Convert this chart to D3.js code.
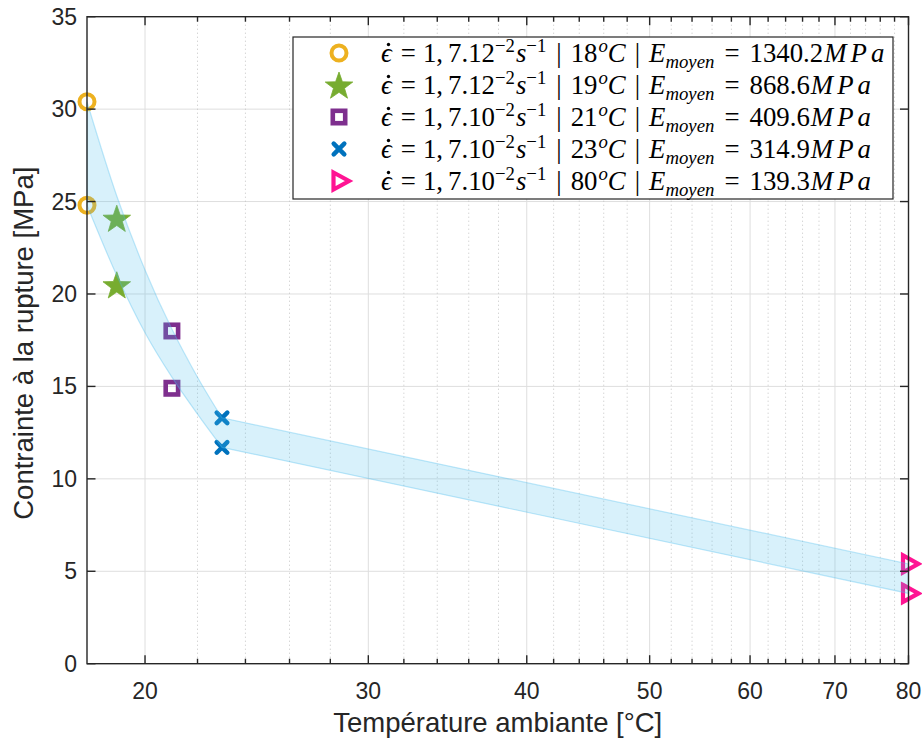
<!DOCTYPE html>
<html>
<head>
<meta charset="utf-8">
<script src="https://cdn.jsdelivr.net/npm/d3@7"></script>
<style>
  html, body { margin: 0; padding: 0; background: #fff; }
  svg { display: block; }
</style>
</head>
<body>
<svg id="chart" width="922" height="742"></svg>
<script>
// ---------------- data ----------------
const temperatures = [18, 19, 21, 23, 80];            // °C, one per series
const stressHigh   = [30.4, 24.1, 18.0, 13.3, 5.4];   // MPa, upper test of each series
const stressLow    = [24.8, 20.5, 14.9, 11.7, 3.8];   // MPa, lower test of each series
const rateMantissa = ["12", "12", "10", "10", "10"];
const tempLabels   = ["18", "19", "21", "23", "80"];
const modulus      = ["1340.2", "868.6", "409.6", "314.9", "139.3"];
const markerShapes = ["circle", "star", "square", "cross", "triangle"];
const markerColors = ["#EDB120", "#77AC30", "#7E2F8E", "#0072BD", "#FF1493"];

// shaded envelope
const bandT     = [18, 19, 20, 21, 22, 23, 80];
const bandUpper = [30.4, 25.3, 21.3, 18.1, 15.5, 13.3, 5.4];
const bandLower = [24.8, 21.0, 17.9, 15.5, 13.5, 11.7, 3.8];

const xMajorTicks = [20, 30, 40, 50, 60, 70, 80];
const xMinorTicks = [22, 24, 26, 28, 32, 34, 36, 38, 42, 44, 46, 48, 52, 54, 56, 58, 62, 64, 66, 68, 72, 74, 76, 78];
const yTicks      = [0, 5, 10, 15, 20, 25, 30, 35];

const xLabel = "Température ambiante [°C]";
const yLabel = "Contrainte à la rupture [MPa]";

// ---------------- layout ----------------
const L = 87, R = 908.5, T = 16.7, B = 663.7;
const axisColor = "#262626";
const sansFont = "Liberation Sans, Arial, Helvetica, sans-serif";
const serifFont = "Liberation Serif, 'Times New Roman', serif";

const svg = d3.select("#chart");
const x = d3.scaleLog().domain([18, 80]).range([L, R]);
const y = d3.scaleLinear().domain([0, 35]).range([B, T]);

// ---------------- grid ----------------
const grid = svg.append("g");
grid.selectAll("line.ymaj").data(yTicks.slice(1, -1)).join("line")
  .attr("x1", L).attr("x2", R).attr("y1", d => y(d)).attr("y2", d => y(d))
  .attr("stroke", "#dedede").attr("stroke-width", 1);
grid.selectAll("line.xmin").data(xMinorTicks).join("line")
  .attr("x1", d => x(d)).attr("x2", d => x(d)).attr("y1", T).attr("y2", B)
  .attr("stroke", "#c4c4c4").attr("stroke-width", 1).attr("stroke-dasharray", "1,3");
grid.selectAll("line.xmaj").data(xMajorTicks.slice(0, -1)).join("line")
  .attr("x1", d => x(d)).attr("x2", d => x(d)).attr("y1", T).attr("y2", B)
  .attr("stroke", "#dedede").attr("stroke-width", 1);

// ---------------- markers ----------------
function drawMarker(g, shape, color) {
  if (shape === "circle") {
    g.append("circle").attr("r", 7.5).attr("fill", "none").attr("stroke", color).attr("stroke-width", 4);
  } else if (shape === "star") {
    const pts = [];
    for (let k = 0; k < 10; k++) {
      const r = k % 2 === 0 ? 14.5 : 5.8;
      const a = -Math.PI / 2 + k * Math.PI / 5;
      pts.push([r * Math.cos(a), r * Math.sin(a) + 1.5]);
    }
    g.append("polygon").attr("points", pts.map(p => p.join(",")).join(" ")).attr("fill", color).attr("stroke", color).attr("stroke-width", 0.8);
  } else if (shape === "square") {
    g.append("rect").attr("x", -6.2).attr("y", -6.2).attr("width", 12.4).attr("height", 12.4)
      .attr("fill", "none").attr("stroke", color).attr("stroke-width", 4.6);
  } else if (shape === "cross") {
    g.append("path").attr("d", "M-5.3,-5.3L5.3,5.3M-5.3,5.3L5.3,-5.3").attr("stroke", color).attr("stroke-width", 4.5).attr("stroke-linecap", "round");
  } else if (shape === "triangle") {
    g.append("path").attr("d", "M-5.5,-8.5L10,0L-5.5,8.5Z").attr("fill", "none").attr("stroke", color).attr("stroke-width", 4.2).attr("stroke-linejoin", "miter");
  }
}

const marks = svg.append("g");
temperatures.forEach((t, i) => {
  [stressHigh[i], stressLow[i]].forEach(v => {
    const g = marks.append("g").attr("transform", `translate(${x(t)},${y(v)})`);
    drawMarker(g, markerShapes[i], markerColors[i]);
  });
});

// ---------------- shaded band (drawn over the markers) ----------------
const nCurve = bandT.length - 1; // last point joined by a straight segment
const curveLine = d3.line().x(d => x(d[0])).y(d => y(d[1])).curve(d3.curveMonotoneX);
const upPts = bandT.slice(0, nCurve).map((t, i) => [t, bandUpper[i]]);
const loPts = bandT.slice(0, nCurve).map((t, i) => [t, bandLower[i]]).reverse();
const last = bandT.length - 1;
let bandPath = curveLine(upPts);
bandPath += `L${x(bandT[last])},${y(bandUpper[last])}`;
bandPath += `L${x(bandT[last])},${y(bandLower[last])}`;
bandPath += curveLine(loPts).replace(/^M/, "L");
bandPath += "Z";
svg.append("path").attr("d", bandPath)
  .attr("fill", "rgb(77,190,238)").attr("fill-opacity", 0.22)
  .attr("stroke", "rgb(77,190,238)").attr("stroke-opacity", 0.35).attr("stroke-width", 1.2);

// ---------------- axes box & ticks ----------------
const ax = svg.append("g").attr("stroke", axisColor).attr("stroke-width", 1.4).attr("fill", "none");
ax.append("rect").attr("x", L).attr("y", T).attr("width", R - L).attr("height", B - T);
const majLen = 8.5, minLen = 5;
xMajorTicks.forEach(d => {
  ax.append("line").attr("x1", x(d)).attr("x2", x(d)).attr("y1", B).attr("y2", B - majLen);
  ax.append("line").attr("x1", x(d)).attr("x2", x(d)).attr("y1", T).attr("y2", T + majLen);
});
xMinorTicks.forEach(d => {
  ax.append("line").attr("x1", x(d)).attr("x2", x(d)).attr("y1", B).attr("y2", B - minLen);
  ax.append("line").attr("x1", x(d)).attr("x2", x(d)).attr("y1", T).attr("y2", T + minLen);
});
yTicks.forEach(d => {
  ax.append("line").attr("x1", L).attr("x2", L + majLen).attr("y1", y(d)).attr("y2", y(d));
  ax.append("line").attr("x1", R).attr("x2", R - majLen).attr("y1", y(d)).attr("y2", y(d));
});

// tick labels
const lbl = svg.append("g").attr("font-family", sansFont).attr("font-size", 23).attr("fill", axisColor);
xMajorTicks.forEach(d => {
  lbl.append("text").attr("x", x(d)).attr("y", 699).attr("text-anchor", "middle").text(d);
});
yTicks.forEach(d => {
  lbl.append("text").attr("x", L - 10).attr("y", y(d) + 8).attr("text-anchor", "end").text(d);
});

// axis titles
svg.append("text").attr("x", (L + R) / 2).attr("y", 732).attr("text-anchor", "middle")
  .attr("font-family", sansFont).attr("font-size", 27.5).attr("fill", axisColor).text(xLabel);
svg.append("text").attr("transform", `translate(33,${(T + B) / 2 + 3}) rotate(-90)`).attr("text-anchor", "middle")
  .attr("font-family", sansFont).attr("font-size", 27.5).attr("fill", axisColor).text(yLabel);

// ---------------- legend ----------------
const legX = 293, legY = 37, legW = 600, legH = 162, rowH = 32;
const leg = svg.append("g");
leg.append("rect").attr("x", legX).attr("y", legY).attr("width", legW).attr("height", legH)
  .attr("fill", "#fff").attr("stroke", axisColor).attr("stroke-width", 1.2);

const fs = 26.8;
const textX = 381;
temperatures.forEach((t, i) => {
  const cy = legY + 16 + i * rowH;
  const base = cy + 9;
  const g = leg.append("g").attr("transform", `translate(339,${cy})`);
  drawMarker(g, markerShapes[i], markerColors[i]);
  const txt = leg.append("text").attr("x", textX).attr("y", base)
    .attr("font-family", serifFont).attr("font-size", fs).attr("fill", "#000");
  const parts = [
    { s: "ϵ", it: true, dx: 0 },
    { s: "=", dx: 9 },
    { s: "1,", dx: 7 },
    { s: "7." + rateMantissa[i], dx: 5 },
    { s: "−2", sup: true, dx: 0 },
    { s: "s", it: true, dx: 1 },
    { s: "−1", sup: true, dx: 0 },
    { s: "|", dx: 10 },
    { s: tempLabels[i], dx: 9 },
    { s: "o", sup: true, it: true, dx: 1 },
    { s: "C", it: true, dx: 0 },
    { s: "|", dx: 9 },
    { s: "E", it: true, dx: 9 },
    { s: "moyen", sub: true, it: true, dx: 0 },
    { s: "=", dx: 10 },
    { s: modulus[i], dx: 10 },
    { s: "MPa", it: true, dx: 1, ls: 4 }
  ];
  let shift = 0;
  parts.forEach(p => {
    const target = p.sup ? -10.5 : (p.sub ? 5.5 : 0);
    const ts = txt.append("tspan").attr("dx", p.dx).attr("dy", target - shift).text(p.s);
    shift = target;
    if (p.it) ts.attr("font-style", "italic");
    if (p.sup || p.sub) ts.attr("font-size", fs * 0.7);
    if (p.ls) ts.attr("letter-spacing", p.ls);
  });
  // dot accent over the epsilon
  leg.append("circle").attr("cx", textX + 7.5).attr("cy", base - 17.5).attr("r", 1.7).attr("fill", "#000");
});
</script>
</body>
</html>
